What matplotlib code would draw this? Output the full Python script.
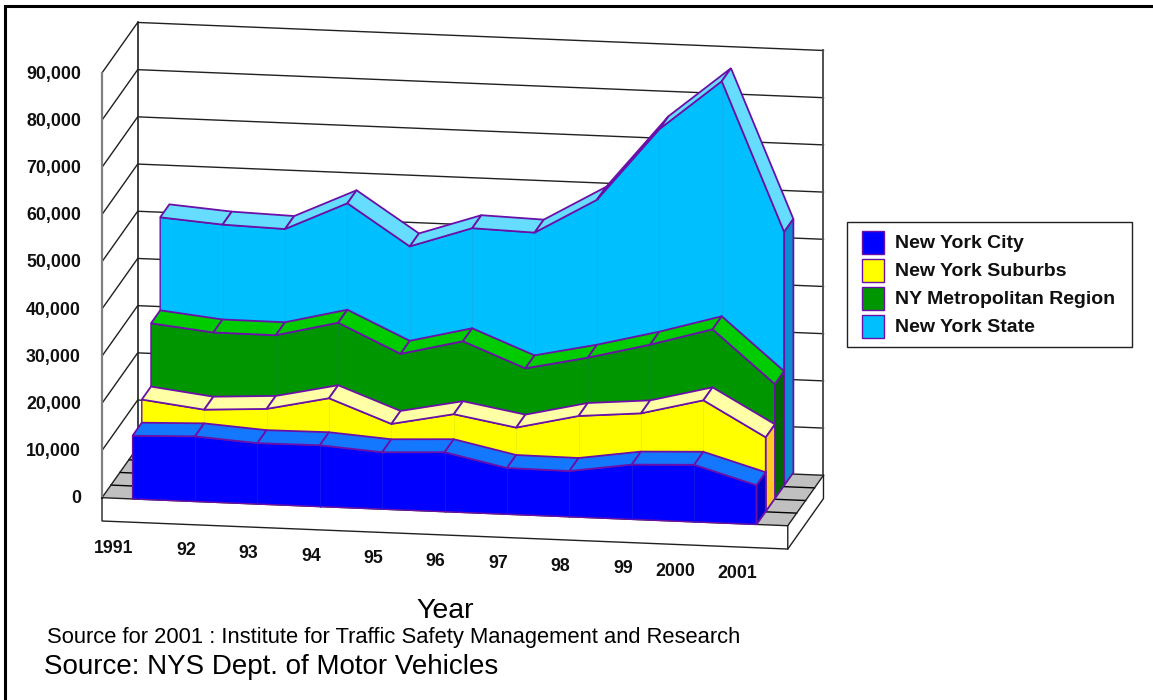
# 3-D style area chart, NY State data (drawn by hand with an oblique projection)

import matplotlib
matplotlib.use('Agg')
import matplotlib.pyplot as plt
from matplotlib.patches import Polygon, Rectangle

plt.rcParams['font.family'] = ['Liberation Sans', 'DejaVu Sans']

years = ['1991', '92', '93', '94', '95', '96', '97', '98', '99', '2000', '2001']
value_ticks = [0, 10000, 20000, 30000, 40000, 50000, 60000, 70000, 80000, 90000]

city = [13400, 13800, 12900, 13000, 12050, 12600, 9800, 9700, 11600, 12100, 8300]
suburbs = [18300, 16700, 17400, 20200, 15300, 17900, 15600, 18600, 19700, 23000, 15700]
metro = [31700, 30300, 30250, 33450, 27400, 30600, 25400, 28200, 31500, 35300, 24200]
state = [51400, 50400, 50000, 56000, 47400, 51800, 51400, 58900, 74400, 85100, 53700]

names = ['New York City', 'New York Suburbs', 'NY Metropolitan Region', 'New York State']
series = [city, suburbs, metro, state]
front_colors = ['#0000FF', '#FFFF00', '#009600', '#00BFFF']
top_colors = ['#1478FF', '#FFFFA6', '#00CC00', '#66DDFF']
side_colors = ['#0000C8', '#FFC828', '#006400', '#0A8CD2']
seam_colors = ['#1A1AE8', '#E8F010', '#068C20', '#12B0EE']
purple = '#6A10A8'

# projection, all in image pixels
X0, Y0 = 102.0, 497.7
STEP_X, STEP_Y = 62.4, 2.55
DEPTH_X, DEPTH_Y = 9.2, -13.0
PX_PER_UNIT = 47.2 / 10000
N_CAT = len(years)


def project(i, v, d):
    # i = category position, v = value, d = depth in layers
    x = X0 + STEP_X * (i + 0.49) + DEPTH_X * d
    y = Y0 + STEP_Y * (i + 0.49) + DEPTH_Y * d - v * PX_PER_UNIT
    return x, y


fig = plt.figure(figsize=(11.53, 7.0), dpi=100)
ax = fig.add_axes([0, 0, 1, 1])
ax.set_xlim(0, 1153)
ax.set_ylim(700, 0)
ax.axis('off')

# outer frame, only left and top are visible
ax.plot([4.5, 4.5, 1153], [700, 6, 6], color='black', lw=2.2, solid_joinstyle='miter')

left = -0.49
right = N_CAT - 0.5
back = 3.88
top_v = value_ticks[-1]

# floor
ax.add_patch(Polygon([project(left, 0, 0), project(right, 0, 0), project(right, 0, back),
                      project(left, 0, back)], fc='#C0C0C0', ec='none', zorder=1))
for d in [back * k / 4 for k in range(1, 4)]:
    ax.plot(*zip(project(left, 0, d), project(right, 0, d)), color='black', lw=1.0, zorder=2)

# walls
for v in value_ticks[1:]:
    ax.plot(*zip(project(left, v, 0), project(left, v, back), project(right, v, back)),
            color='#202020', lw=1.0, zorder=2)
ax.plot(*zip(project(left, 0, 0), project(left, 0, back), project(right, 0, back)),
        color='#202020', lw=1.0, zorder=2)
ax.plot(*zip(project(left, 0, back), project(left, top_v, back)), color='#202020', lw=1.2, zorder=2)
ax.plot(*zip(project(right, 0, back), project(right, top_v, back)), color='#505050', lw=1.4, zorder=2)
ax.plot(*zip(project(left, 0, 0), project(left, top_v, 0)), color='#808080', lw=1.6, zorder=2)

# floor slab below the front edge
slab = -23.3 / PX_PER_UNIT
ax.plot(*zip(project(left, 0, 0), project(left, slab, 0), project(right, slab, 0),
             project(right, 0, 0), project(left, 0, 0)), color='#202020', lw=1.0, zorder=2)
ax.plot(*zip(project(right, slab, 0), project(right, slab, back), project(right, 0, back)),
        color='#202020', lw=1.0, zorder=2)
ax.plot(*zip(project(right, 0, 0), project(right, 0, back)), color='#202020', lw=1.0, zorder=2)

# areas, back one first
for k in range(len(series) - 1, -1, -1):
    vals = series[k]
    idx = range(N_CAT)
    front = [project(i, vals[i], k) for i in idx]
    base = [project(i, 0, k) for i in idx]
    rear = [project(i, vals[i], k + 1) for i in idx]
    z = 10 + (len(series) - k) * 10

    ax.add_patch(Polygon(front + base[::-1], fc=front_colors[k], ec=purple, lw=1.0, zorder=z))
    for i in range(1, N_CAT - 1):
        ax.plot(*zip(base[i], front[i]), color=seam_colors[k], lw=0.6, zorder=z + 1)

    # top ribbon
    for i in range(N_CAT - 1):
        ax.add_patch(Polygon([front[i], front[i + 1], rear[i + 1], rear[i]],
                             fc=top_colors[k], ec=purple, lw=1.3, zorder=z + 2))

    # right end
    end_base = project(N_CAT - 1, 0, k + 1)
    ax.add_patch(Polygon([front[-1], rear[-1], end_base, base[-1]],
                         fc=side_colors[k], ec=purple, lw=1.3, zorder=z + 2))

# tick labels
for v in value_ticks:
    y = project(left, v, 0)[1]
    ax.text(81, y + 1.2, f'{v:,}', ha='right', va='center', fontsize=12.8, fontweight='bold', color='#101010')

for i, lab in enumerate(years):
    x, y = project(i, 0, 0)
    ax.text(x + 1, y + 49.5, lab, ha='right', va='center', fontsize=12.8, fontweight='bold', color='#101010')

# legend
ax.add_patch(Rectangle((846.5, 221.5), 285, 125, fc='white', ec='#202020', lw=1.0))
swatch_top = [231, 259, 287, 315]
for k, name in enumerate(names):
    ax.add_patch(Rectangle((861.5, swatch_top[k]), 22.5, 22.5, fc=front_colors[k], ec=purple, lw=1.0))
    ax.text(895, swatch_top[k] + 12.5, name, ha='left', va='center', fontsize=14, fontweight='bold', color='#101010')

# titles and sources
ax.text(445, 611, 'Year', ha='center', va='center', fontsize=20.5, color='black')
ax.text(47, 637.5, 'Source for 2001 : Institute for Traffic Safety Management and Research',
        ha='left', va='center', fontsize=15.85, color='black')
ax.text(44, 666.5, 'Source: NYS Dept. of Motor Vehicles', ha='left', va='center', fontsize=20, color='black')

fig.savefig('out.png', dpi=100)
